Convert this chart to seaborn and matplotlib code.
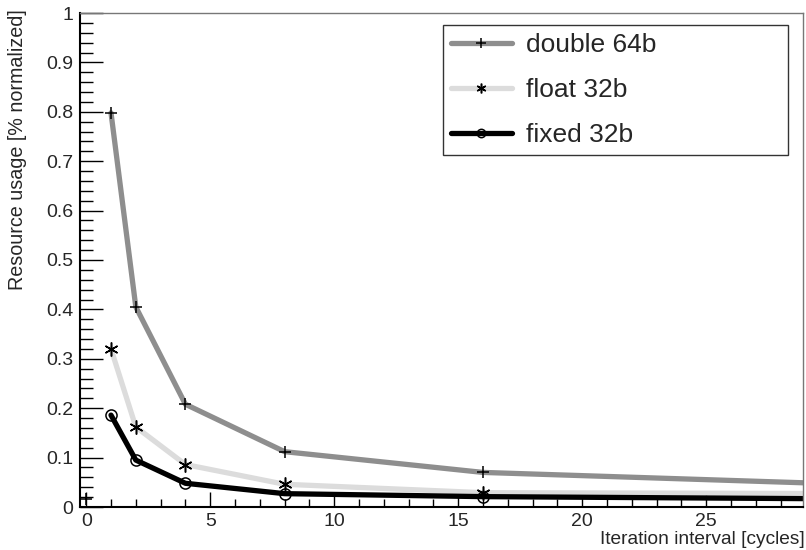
import numpy as np
import pandas as pd
import matplotlib
matplotlib.use("Agg")
import matplotlib.pyplot as plt
import seaborn as sns
from matplotlib.lines import Line2D
from matplotlib.ticker import MultipleLocator

# ---- data ----
interval = [1, 2, 4, 8, 16, 32]
double_64b = [0.798, 0.405, 0.208, 0.112, 0.070, 0.044]
float_32b = [0.320, 0.162, 0.086, 0.046, 0.029, 0.027]
fixed_32b = [0.186, 0.095, 0.048, 0.027, 0.021, 0.016]
series_names = ["double 64b", "float 32b", "fixed 32b"]
stray_x = [0]
stray_y = [0.016]

sns.set_theme(style="ticks")
plt.rcParams["font.family"] = ["Liberation Sans", "DejaVu Sans"]

fig = plt.figure(figsize=(8.06, 5.5), dpi=100)
ax = fig.add_axes([80 / 806, 1 - 507 / 550, (803 - 80) / 806, (507 - 13) / 550])

colors = ["#8e8e8e", "#dcdcdc", "#000000"]
markers = ["+", (6, 2, 0), "o"]
msizes = [9, 10, 8]
lw = 3.8

for name, vals, c, m, ms in zip(series_names, [double_64b, float_32b, fixed_32b], colors, markers, msizes):
    df = pd.DataFrame({"x": interval, "y": vals})
    sns.lineplot(data=df, x="x", y="y", ax=ax, color=c, lw=lw, marker=m, ms=ms,
                 mec="black", mfc="none", mew=1.1, label=None, legend=False)

sns.scatterplot(x=stray_x, y=stray_y, ax=ax, marker="+", s=80, color="black", linewidth=1.1, legend=False)

ax.set_xlim(-0.25, 28.9)
ax.set_ylim(0, 1)
ax.xaxis.set_major_locator(MultipleLocator(5))
ax.xaxis.set_minor_locator(MultipleLocator(1))
ax.yaxis.set_major_locator(MultipleLocator(0.1))
ax.yaxis.set_minor_locator(MultipleLocator(0.02))
ax.yaxis.set_major_formatter(matplotlib.ticker.FuncFormatter(
    lambda v, p: "0" if abs(v) < 1e-9 else ("1" if abs(v - 1) < 1e-9 else f"{v:.1f}")))

ax.tick_params(axis="y", which="major", direction="in", length=16.5, width=1.0, color="black",
               labelsize=14, pad=5, right=False)
ax.tick_params(axis="y", which="minor", direction="in", length=9, width=1.0, color="black", right=False)
ax.tick_params(axis="x", which="major", direction="in", length=11, width=1.0, color="black",
               labelsize=14, pad=4, top=False)
ax.tick_params(axis="x", which="minor", direction="in", length=6, width=1.0, color="black", top=False)

for s in ["left", "bottom"]:
    ax.spines[s].set_color("black")
    ax.spines[s].set_linewidth(1.5)
for s in ["top", "right"]:
    ax.spines[s].set_visible(True)
    ax.spines[s].set_color("#777777")
    ax.spines[s].set_linewidth(1.0)

ax.set_xlabel("")
ax.set_ylabel("")
fig.text(805 / 806, 1 - 539 / 550, "Iteration interval [cycles]", ha="right", va="center", fontsize=13.8)
fig.text(18 / 806, 1 - 9 / 550, "Resource usage [% normalized]", ha="center", va="top",
         rotation=90, fontsize=14.2)

handles = [Line2D([], [], color=c, lw=lw, marker=m, ms=ms, mec="black", mfc="none", mew=1.1)
           for c, m, ms in zip(colors, markers, [7, 7, 6])]
leg = ax.legend(handles, series_names, loc="upper left", mode="expand",
                bbox_to_anchor=(443 / 806, 1 - 154 / 550, 345 / 806, 129 / 550),
                bbox_transform=fig.transFigure,
                borderaxespad=0, frameon=True, fancybox=False, fontsize=19,
                handlelength=2.3, handletextpad=0.55, labelspacing=0.8, borderpad=0.3)
leg.get_frame().set_edgecolor("black")
leg.get_frame().set_linewidth(1.0)

fig.savefig("out.png", dpi=100)
